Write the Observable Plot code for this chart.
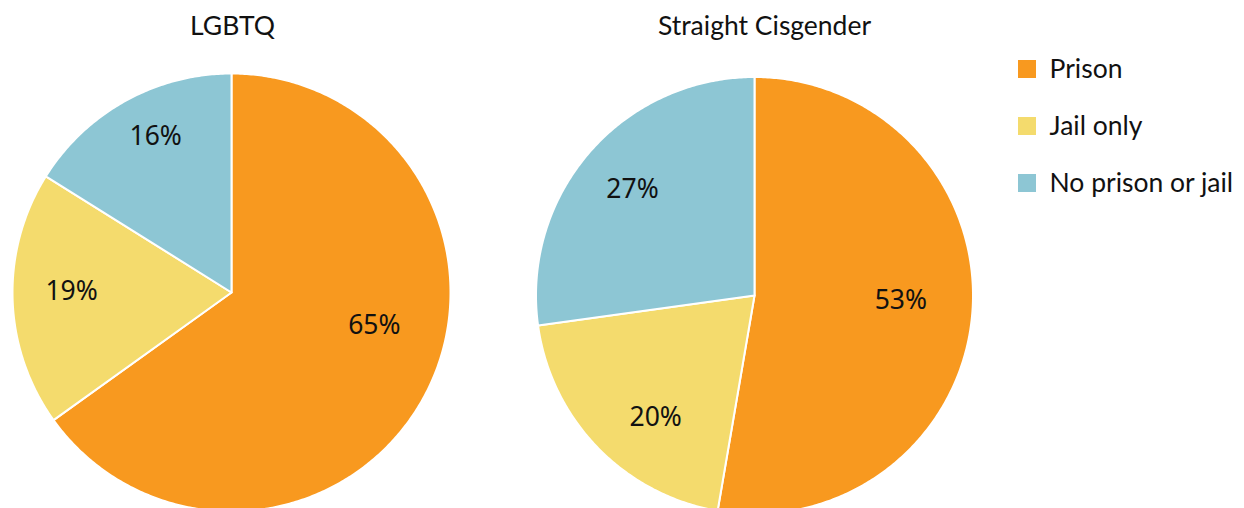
<!DOCTYPE html>
<html>
<head>
<meta charset="utf-8">
<script src="https://cdn.jsdelivr.net/npm/d3@7"></script>
<script src="https://cdn.jsdelivr.net/npm/@observablehq/plot@0.6"></script>
<style>
  html, body { margin: 0; padding: 0; background: #fff; overflow: hidden; }
</style>
</head>
<body>
<div id="chart"></div>
<script>
// ---- data ----
const groups = ["LGBTQ", "Straight Cisgender"];
const categories = ["Prison", "Jail only", "No prison or jail"];
const lgbtqValues = [65.1, 18.8, 16.1];
const straightValues = [52.7, 20.1, 27.2];
const colors = ["#F8991F", "#F4DB6D", "#8DC6D4"];

// ---- layout (pixels) ----
const W = 1244, H = 508;
const pieLayout = [
  {cx: 231, cy: 292, r: 219, titleX: 232},
  {cx: 754, cy: 295, r: 218.5, titleX: 764}
];
// label placement per slice: [angle offset in degrees from slice middle, radius fraction]
const labelPlacement = [
  [[-14, 0.67], [2, 0.73], [3, 0.79]],
  [[-3, 0.67], [-7, 0.72], [0, 0.74]]
];

const seriesValues = [lgbtqValues, straightValues];
const slices = [];
const labels = [];
seriesValues.forEach((vals, gi) => {
  const {cx, cy, r} = pieLayout[gi];
  const total = d3.sum(vals);
  let start = 0;
  vals.forEach((v, ci) => {
    const a0 = start / total * 2 * Math.PI;
    const a1 = (start + v) / total * 2 * Math.PI;
    start += v;
    const id = groups[gi] + "|" + categories[ci];
    const n = Math.max(2, Math.ceil((a1 - a0) / 0.01));
    slices.push({id, category: categories[ci], x: cx, y: cy});
    for (let k = 0; k <= n; k++) {
      const a = a0 + (a1 - a0) * k / n;
      slices.push({id, category: categories[ci], x: cx + r * Math.sin(a), y: cy - r * Math.cos(a)});
    }
    slices.push({id, category: categories[ci], x: cx, y: cy});
    const [off, rf] = labelPlacement[gi][ci];
    const am = (a0 + a1) / 2 + off * Math.PI / 180;
    labels.push({text: Math.round(v) + "%", x: cx + rf * r * Math.sin(am), y: cy - rf * r * Math.cos(am)});
  });
});

const titles = groups.map((g, i) => ({text: g, x: pieLayout[i].titleX, y: 26}));
const legendRows = categories.map((c, i) => ({category: c, x: 1018, y: 69 + i * 57}));

const chart = Plot.plot({
  width: W,
  height: H,
  margin: 0,
  x: {domain: [0, W], range: [0, W], axis: null},
  y: {domain: [0, H], range: [0, H], axis: null},
  color: {domain: categories, range: colors},
  style: {background: "#fff", overflow: "hidden"},
  marks: [
    Plot.line(slices, {x: "x", y: "y", z: "id", fill: "category", stroke: "#fff", strokeWidth: 2, strokeLinejoin: "round", curve: "linear"}),
    Plot.text(labels, {x: "x", y: "y", text: "text", fontSize: 26.5, fontFamily: "Noto Sans", fill: "#111"}),
    Plot.text(titles, {x: "x", y: "y", text: "text", fontSize: 26.5, fontFamily: "Lato", fill: "#111"}),
    Plot.rect(legendRows, {x1: d => d.x, x2: d => d.x + 18, y1: d => d.y - 9, y2: d => d.y + 9, fill: "category"}),
    Plot.text(legendRows, {x: d => d.x + 31, y: "y", text: "category", textAnchor: "start", fontSize: 26.5, fontFamily: "Lato", fill: "#111"})
  ]
});
document.getElementById("chart").appendChild(chart);
</script>
</body>
</html>
